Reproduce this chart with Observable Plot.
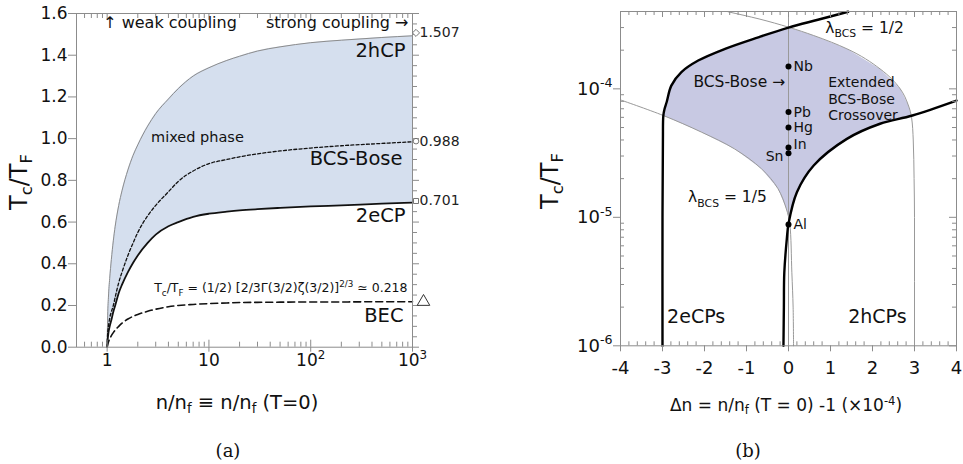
<!DOCTYPE html>
<html><head><meta charset="utf-8">
<script src="https://cdn.jsdelivr.net/npm/d3@7"></script>
<script src="https://cdn.jsdelivr.net/npm/@observablehq/plot@0.6"></script>
<style>
body{margin:0;background:#fff;width:963px;height:464px;position:relative;overflow:hidden;font-family:"DejaVu Sans",sans-serif;color:#111}
.lbl{position:absolute;white-space:nowrap;line-height:1;transform:translate(-50%,-50%)}
.lbl sub{font-size:0.68em;vertical-align:-0.28em;line-height:0}
.lbl sup{font-size:0.68em;vertical-align:0.45em;line-height:0}
.cap{font-family:"DejaVu Serif",serif;font-size:18px}
#a,#b{position:absolute;top:0}
#a{left:0}#b{left:480px}
</style></head><body>
<div id="a"></div><div id="b"></div>
<div class="lbl" style="left:19px;top:182px;font-size:24px;transform:translate(-50%,-50%) rotate(-90deg)">T<sub>c</sub>/T<sub>F</sub></div>
<div class="lbl" style="left:237px;top:403px;font-size:19.5px">n/n<sub>f</sub> ≡ n/n<sub>f</sub> (T=0)</div>
<div class="lbl cap" style="left:228px;top:451px">(a)</div>
<div class="lbl" style="left:550px;top:181px;font-size:24px;transform:translate(-50%,-50%) rotate(-90deg)">T<sub>c</sub>/T<sub>F</sub></div>
<div class="lbl" style="left:786px;top:405px;font-size:17px">Δn = n/n<sub>f</sub> (T = 0) -1 (×10<sup>-4</sup>)</div>
<div class="lbl cap" style="left:748px;top:451px">(b)</div>
<script>
// ---------- Panel (a) data ----------
const nRatio    = [1, 1.01, 1.03, 1.06, 1.1, 1.15, 1.2, 1.3, 1.4, 1.6, 1.8, 2, 2.5, 3, 4, 5, 7, 10, 15, 20, 30, 50, 100, 200, 500, 1000];
const tc2hCP    = [0, 0.13, 0.24, 0.33, 0.42, 0.51, 0.58, 0.68, 0.75, 0.85, 0.92, 0.97, 1.06, 1.12, 1.19, 1.24, 1.30, 1.34, 1.375, 1.395, 1.42, 1.44, 1.46, 1.472, 1.485, 1.493];
const tcBCSBose = [0, 0.06, 0.10, 0.14, 0.17, 0.20, 0.24, 0.31, 0.36, 0.44, 0.50, 0.55, 0.63, 0.68, 0.745, 0.795, 0.845, 0.88, 0.90, 0.913, 0.927, 0.941, 0.955, 0.966, 0.977, 0.985];
const tc2eCP    = [0, 0.03, 0.07, 0.10, 0.13, 0.17, 0.20, 0.26, 0.30, 0.36, 0.405, 0.44, 0.50, 0.54, 0.58, 0.60, 0.625, 0.64, 0.65, 0.656, 0.662, 0.668, 0.675, 0.68, 0.688, 0.693];
const tcBEC     = [0, 0.01, 0.025, 0.04, 0.055, 0.07, 0.082, 0.10, 0.115, 0.135, 0.148, 0.157, 0.172, 0.182, 0.194, 0.20, 0.205, 0.209, 0.212, 0.214, 0.215, 0.216, 0.217, 0.217, 0.218, 0.218];
const limitValues = [1.507, 0.988, 0.701];
const limitLabels = ["1.507", "0.988", "0.701"];
const becLimit = 0.218;
const yTicksA = [0, 0.2, 0.4, 0.6, 0.8, 1.0, 1.2, 1.4, 1.6];
const yMinorA = [0.05,0.1,0.15,0.25,0.3,0.35,0.45,0.5,0.55,0.65,0.7,0.75,0.85,0.9,0.95,1.05,1.1,1.15,1.25,1.3,1.35,1.45,1.5,1.55];
const xTicksA = [1, 10, 100, 1000];
const xTickLabelsA = ["1", "10", "10^{2}", "10^{3}"];
const xMinorA = [0.6,0.7,0.8,0.9,2,3,4,5,6,7,8,9,20,30,40,50,60,70,80,90,200,300,400,500,600,700,800,900];

// ---------- Panel (b) data ----------
const blackLeftDn  = [-3.0, -3.0, -2.99, -2.98, -2.95, -2.9, -2.79, -2.55, -2.15, -1.51, -0.72, 0, 0.7, 1.42];
const blackLeftTc  = [1e-6, 1e-5, 4e-5, 6.2e-5, 7.0e-5, 7.9e-5, 1.06e-4, 1.35e-4, 1.66e-4, 2.05e-4, 2.52e-4, 3.0e-4, 3.45e-4, 3.98e-4];
const blackRightDn = [-0.12, -0.11, -0.1, -0.04, 0, 0.2, 0.6, 1.39, 2.18, 2.95, 4];
const blackRightTc = [1e-6, 2e-6, 3.7e-6, 6.8e-6, 8.9e-6, 1.57e-5, 2.53e-5, 4.08e-5, 5.35e-5, 6.2e-5, 8.1e-5];
const lambdaHalfDn = [-1.44, -0.7, 0, 0.6, 1.39, 2.18, 2.66, 2.85, 2.93, 2.97, 2.99, 3.0, 3.0];
const lambdaHalfTc = [3.98e-4, 3.5e-4, 3.02e-4, 2.6e-4, 2.05e-4, 1.43e-4, 1.0e-4, 7.5e-5, 6.0e-5, 4.0e-5, 2.0e-5, 1e-5, 1e-6];
const lambdaFifthDn = [-4, -2.98, -2.07, -1.28, -0.64, -0.25, -0.05, 0.03, 0.08, 0.11, 0.12];
const lambdaFifthTc = [8.2e-5, 6.2e-5, 4.6e-5, 3.4e-5, 2.38e-5, 1.67e-5, 1.16e-5, 8.9e-6, 3.7e-6, 2e-6, 1e-6];
const metals   = ["Nb", "Pb", "Hg", "In", "Sn", "Al"];
const metalDn  = [0, 0, 0, 0, 0, 0];
const metalTc  = [1.49e-4, 6.6e-5, 5.0e-5, 3.5e-5, 3.15e-5, 8.8e-6];
const yTicksB = [1e-6, 1e-5, 1e-4];
const yTickLabelsB = ["10^{-6}", "10^{-5}", "10^{-4}"];
const yMinorB = [2e-6,3e-6,4e-6,5e-6,6e-6,7e-6,8e-6,9e-6,2e-5,3e-5,4e-5,5e-5,6e-5,7e-5,8e-5,9e-5,2e-4,3e-4,4e-4];
const xTicksB = [-4, -3, -2, -1, 0, 1, 2, 3, 4];

// ---------- helpers ----------
const pts = (xs, ys) => xs.map((x, i) => ({x, y: ys[i]}));
const note = (x, y, text, o = {}) => Plot.text([{x, y, text}], {x: "x", y: "y", text: "text", fill: "#111", ...o});
const GRAY = "#8c8c8c";

function rich(svg) {
  svg.querySelectorAll("text").forEach(t => {
    const s = t.textContent;
    if (!/[_^]\{/.test(s) || t.children.length) return;
    const fs = parseFloat(getComputedStyle(t).fontSize) || 12;
    t.textContent = "";
    const re = /([_^])\{([^}]*)\}/g;
    let last = 0, m, shift = 0;
    const add = (txt, kind) => {
      if (!txt) return;
      const ts = document.createElementNS("http://www.w3.org/2000/svg", "tspan");
      const target = kind === "_" ? 0.28 * fs : kind === "^" ? -0.42 * fs : 0;
      ts.setAttribute("dy", target - shift); shift = target;
      if (kind) ts.setAttribute("font-size", 0.7 * fs);
      ts.textContent = txt; t.appendChild(ts);
    };
    while ((m = re.exec(s))) { add(s.slice(last, m.index), null); add(m[2], m[1]); last = re.lastIndex; }
    add(s.slice(last), null);
  });
}

// ---------- Panel (a) ----------
const WA = 480, HA = 420, mlA = 76, mrA = 68, mtA = 13, mbA = 73.3;
const iwA = WA - mlA - mrA, ihA = HA - mtA - mbA;
const tableA = nRatio.map((n, i) => ({n, h: tc2hCP[i], b: tcBCSBose[i], e: tc2eCP[i], g: tcBEC[i]}));

const plotA = Plot.plot({
  width: WA, height: HA, marginLeft: mlA, marginRight: mrA, marginTop: mtA, marginBottom: mbA,
  x: {type: "log", domain: [0.5, 1000]},
  y: {domain: [0, 1.6]},
  style: {fontFamily: "DejaVu Sans", fontSize: "17px", background: "transparent", overflow: "visible", color: "#111"},
  marks: [
    Plot.areaY(tableA, {x: "n", y1: "e", y2: "h", fill: "#d5dfee", curve: "monotone-x"}),
    Plot.line(tableA, {x: "n", y: "h", stroke: GRAY, strokeWidth: 1, curve: "monotone-x"}),
    Plot.line(tableA, {x: "n", y: "b", stroke: "#111", strokeWidth: 1.3, strokeDasharray: "3,2.2", curve: "monotone-x"}),
    Plot.line(tableA, {x: "n", y: "e", stroke: "#111", strokeWidth: 1.8, curve: "monotone-x"}),
    Plot.line(tableA, {x: "n", y: "g", stroke: "#111", strokeWidth: 1.6, strokeDasharray: "7,4", curve: "monotone-x"}),
    Plot.frame({stroke: GRAY}),
    // ticks
    Plot.axisY(yTicksA, {anchor: "left", tickSize: 8, tickPadding: 1, stroke: GRAY, fontSize: 17, tickFormat: d => d.toFixed(1), label: null}),
    Plot.axisY(yTicksA, {anchor: "right", tickSize: 6, stroke: GRAY, tickFormat: () => "", label: null}),
    Plot.axisY(yMinorA, {anchor: "right", tickSize: 4, stroke: GRAY, tickFormat: () => "", label: null}),
    Plot.axisX(xTicksA, {anchor: "bottom", tickSize: 5, tickPadding: 2, stroke: GRAY, fontSize: 17, tickFormat: d => xTickLabelsA[xTicksA.indexOf(d)], label: null}),
    Plot.tickX(xMinorA, {x: d => d, insetTop: ihA - 5, stroke: GRAY}),
    Plot.tickX(xTicksA, {x: d => d, insetTop: ihA - 7, stroke: GRAY}),
    Plot.tickX(xMinorA, {x: d => d, insetBottom: ihA - 5, stroke: GRAY}),
    Plot.tickX(xTicksA, {x: d => d, insetBottom: ihA - 7, stroke: GRAY}),
    // limit markers
    Plot.dot([{x: 1000, y: limitValues[0]}], {x: "x", y: "y", symbol: "diamond2", r: 3.2, dx: 3.5, fill: "white", stroke: "#666", strokeWidth: 0.9}),
    Plot.dot([{x: 1000, y: limitValues[1]}], {x: "x", y: "y", symbol: "circle", r: 2.8, dx: 3.5, fill: "white", stroke: "#666", strokeWidth: 0.9}),
    Plot.dot([{x: 1000, y: limitValues[2]}], {x: "x", y: "y", symbol: "square2", r: 3.2, dx: 3.5, fill: "white", stroke: "#666", strokeWidth: 0.9}),
    Plot.dot([{x: 1000, y: becLimit}], {x: "x", y: "y", symbol: "triangle2", r: 6, dx: 11, fill: "white", stroke: "#333", strokeWidth: 1}),
    Plot.text(limitValues.map((v, i) => ({x: 1000, y: v, t: limitLabels[i]})), {x: "x", y: "y", text: "t", dx: 7, textAnchor: "start", fontSize: 14, fill: "#222"}),
    // annotations
    note(0.914, 1.557, "↑ weak coupling", {textAnchor: "start", fontSize: 16}),
    note(914, 1.557, "strong coupling →", {textAnchor: "end", fontSize: 16}),
    note(854, 1.423, "2hCP", {textAnchor: "end", fontSize: 19.5}),
    note(2.7, 1.006, "mixed phase", {textAnchor: "start", fontSize: 14.5}),
    note(798, 0.905, "BCS-Bose", {textAnchor: "end", fontSize: 19.5}),
    note(854, 0.632, "2eCP", {textAnchor: "end", fontSize: 19.5}),
    note(893, 0.282, "T_{c}/T_{F} = (1/2) [2/3Γ(3/2)ζ(3/2)]^{2/3} ≃ 0.218", {textAnchor: "end", fontSize: 12.5}),
    note(816, 0.152, "BEC", {textAnchor: "end", fontSize: 19.5})
  ]
});
document.getElementById("a").appendChild(plotA);
rich(plotA);

// ---------- Panel (b) ----------
const WB = 483, HB = 420, mlB = 140, mrB = 7, mtB = 11, mbB = 74.7;
const iwB = WB - mlB - mrB, ihB = HB - mtB - mbB;
const blackLeft = pts(blackLeftDn, blackLeftTc);
const blackRight = pts(blackRightDn, blackRightTc);
const lambdaHalf = pts(lambdaHalfDn, lambdaHalfTc);
const lambdaFifth = pts(lambdaFifthDn, lambdaFifthTc);
const fillPoly = [
  ...blackLeft.filter(p => p.y >= 6.2e-5 && p.x <= 0),
  ...lambdaHalf.filter(p => p.x >= 0 && p.y >= 6e-5),
  ...blackRight.filter(p => p.x >= 0 && p.x <= 2.95).reverse(),
  ...lambdaFifth.filter(p => p.x <= 0.03 && p.x > -3 && p.y >= 8.9e-6).reverse()
];
const metalPts = metals.map((m, i) => ({name: m, x: metalDn[i], y: metalTc[i]}));
const xMinorB = d3.range(-4, 4.001, 0.2).filter(v => Math.abs(v - Math.round(v)) > 1e-6);

const plotB = Plot.plot({
  width: WB, height: HB, marginLeft: mlB, marginRight: mrB, marginTop: mtB, marginBottom: mbB,
  x: {domain: [-4, 4]},
  y: {type: "log", domain: [1e-6, 4e-4]},
  style: {fontFamily: "DejaVu Sans", fontSize: "18px", background: "transparent", overflow: "visible", color: "#111"},
  marks: [
    Plot.line(fillPoly, {x: "x", y: "y", fill: "#c8c9e3", stroke: "none", curve: "linear"}),
    Plot.ruleX([0], {stroke: "#999", strokeWidth: 1}),
    Plot.line(lambdaHalf, {x: "x", y: "y", stroke: "#999", strokeWidth: 1, curve: "monotone-y"}),
    Plot.line(lambdaFifth, {x: "x", y: "y", stroke: "#999", strokeWidth: 1, curve: "catmull-rom"}),
    Plot.line(blackLeft, {x: "x", y: "y", stroke: "#000", strokeWidth: 2.4, curve: "catmull-rom"}),
    Plot.line(blackRight, {x: "x", y: "y", stroke: "#000", strokeWidth: 2.4, curve: "catmull-rom"}),
    Plot.dot(metalPts, {x: "x", y: "y", r: 3, fill: "#000", stroke: "none"}),
    Plot.text(metalPts.filter(d => ["Nb", "Pb", "Hg", "Al"].includes(d.name)), {x: "x", y: "y", text: "name", dx: 5, textAnchor: "start", fontSize: 14, fill: "#111"}),
    Plot.text(metalPts.filter(d => d.name === "In"), {x: "x", y: "y", text: "name", dx: 5, dy: -3, textAnchor: "start", fontSize: 14, fill: "#111"}),
    Plot.text(metalPts.filter(d => d.name === "Sn"), {x: "x", y: "y", text: "name", dx: -5, dy: 3, textAnchor: "end", fontSize: 14, fill: "#111"}),
    Plot.frame({stroke: GRAY}),
    Plot.axisY(yTicksB, {anchor: "left", tickSize: 7, tickPadding: 1, stroke: GRAY, fontSize: 18, tickFormat: d => yTickLabelsB[yTicksB.indexOf(d)], label: null}),
    Plot.tickY(yMinorB, {y: d => d, insetRight: iwB - 4, stroke: GRAY}),
    Plot.tickY(yTicksB, {y: d => d, insetLeft: iwB - 7, stroke: GRAY}),
    Plot.tickY(yMinorB, {y: d => d, insetLeft: iwB - 4, stroke: GRAY}),
    Plot.axisX(xTicksB, {anchor: "bottom", tickSize: 6, tickPadding: 9, stroke: GRAY, fontSize: 18, tickFormat: d => String(d), label: null}),
    Plot.tickX(xMinorB, {x: d => d, insetTop: ihB - 4, stroke: GRAY}),
    Plot.tickX(xMinorB, {x: d => d, insetBottom: ihB - 4, stroke: GRAY}),
    Plot.tickX(xTicksB, {x: d => d, insetBottom: ihB - 6, stroke: GRAY}),
    note(0.874, 3.0e-4, "λ_{BCS} = 1/2", {textAnchor: "start", fontSize: 15.5}),
    note(-0.08, 1.14e-4, "BCS-Bose →", {textAnchor: "end", fontSize: 15.5}),
    note(0.945, 8.45e-5, "Extended\nBCS-Bose\nCrossover", {textAnchor: "start", fontSize: 14, lineHeight: 1.19, lineAnchor: "middle"}),
    note(-2.39, 1.43e-5, "λ_{BCS} = 1/5", {textAnchor: "start", fontSize: 15.5}),
    note(-2.89, 1.67e-6, "2eCPs", {textAnchor: "start", fontSize: 19}),
    note(1.42, 1.67e-6, "2hCPs", {textAnchor: "start", fontSize: 19})
  ]
});
document.getElementById("b").appendChild(plotB);
rich(plotB);
</script>
</body></html>
